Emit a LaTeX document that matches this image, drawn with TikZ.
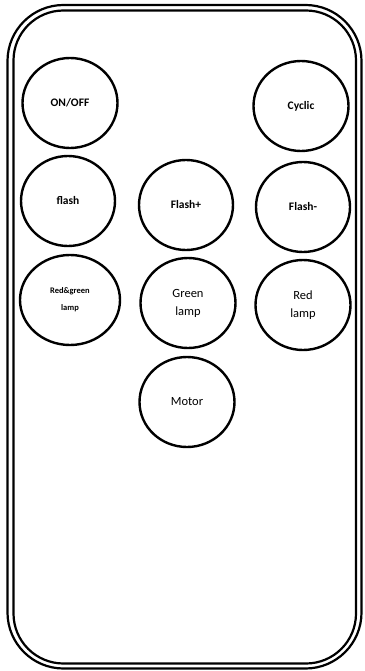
\documentclass[tikz,border=0pt]{standalone}
\usepackage{fontspec}
\setmainfont{Carlito}
\usetikzlibrary{shapes.geometric}
\begin{document}
\begin{tikzpicture}[x=1pt,y=-1pt,
  btn/.style={draw,line width=2.4pt,ellipse,minimum width=#1,minimum height=90pt,inner sep=0pt,align=center,font=\bfseries\fontsize{11.5}{14}\selectfont},
  btn/.default=95pt,
  rim/.style={draw,line width=2.2pt,rounded corners=#1}]
\useasboundingbox (0,0) rectangle (364,671);
\draw[rim=56pt] (7.5,5) rectangle (361.5,668.5);
\draw[rim=50pt] (13.5,10.5) rectangle (356,663.5);
\node[btn] (onoff) at (70,103) {ON/OFF};
\node[btn] (cyclic) at (301,106) {Cyclic};
\node[btn=94pt] (flash) at (68,201) {flash};
\node[btn=94pt] (flashp) at (186,205) {Flash+};
\node[btn=94pt] (flashm) at (303,207) {Flash-};
\node[btn=100pt,font=\bfseries\fontsize{8.5}{17}\selectfont] (rg) at (70,300) {Red\&green\\lamp};
\node[btn,font=\fontsize{12.5}{18}\selectfont] (green) at (188,303) {Green\\lamp};
\node[btn,font=\fontsize{12.5}{18}\selectfont] (red) at (303,305) {Red\\lamp};
\node[btn,font=\fontsize{12.5}{14}\selectfont] (motor) at (187,402) {Motor};
\end{tikzpicture}
\end{document}
